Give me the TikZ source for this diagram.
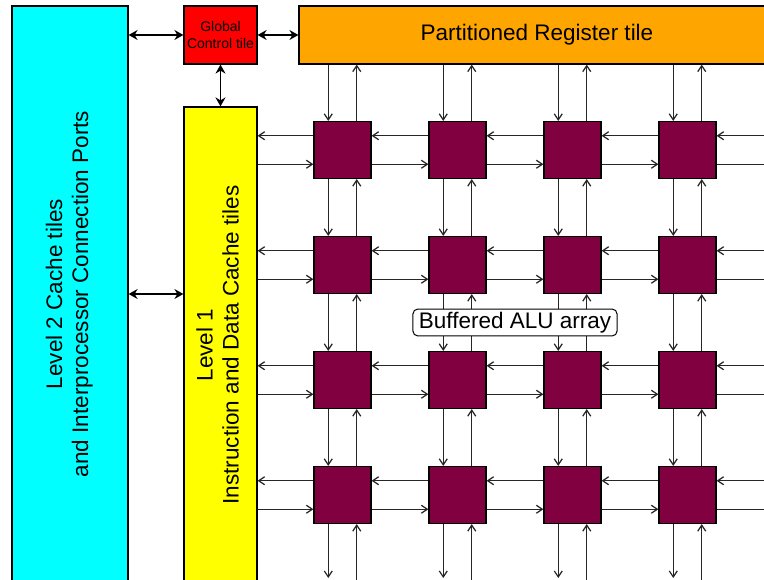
\documentclass[tikz,border=0pt]{standalone}
\usepackage{fontspec}
\setmainfont{Liberation Sans}
\usetikzlibrary{arrows.meta,positioning,calc}
\definecolor{regOrange}{RGB}{255,165,0}
\definecolor{aluPurple}{RGB}{128,0,64}
\definecolor{cacheCyan}{RGB}{0,255,255}
\definecolor{cacheYellow}{RGB}{255,255,0}
\definecolor{ctlRed}{RGB}{255,0,0}

\begin{document}
\begin{tikzpicture}[x=1pt, y=-1pt,
  tile/.style={draw, line width=1.2pt, inner sep=0pt},
  alu/.style={draw, line width=1.2pt, fill=aluPurple, minimum size=57pt, inner sep=0pt},
  bus/.style={line width=1.8pt, {Stealth[length=9pt,width=10pt,inset=3pt]}-{Stealth[length=9pt,width=10pt,inset=3pt]}},
  link/.style={line width=1.2pt, black!85, -{Straight Barb[length=6pt,width=8pt]}},
  big/.style={font=\fontsize{22.5}{26}\selectfont}]
\useasboundingbox (0,0) rectangle (764,580);
\clip (0,0) rectangle (764,580);
\coordinate (rim) at (780,590);
\coordinate (bot) at (0,578);

\node[tile, fill=cacheCyan, minimum width=116pt, minimum height=576pt, big] (l2) at (70,294)
  {\rotatebox{90}{\begin{tabular}{@{}c@{}}Level 2 Cache tiles\\and Interprocessor Connection Ports\end{tabular}}};
\node[tile, fill=ctlRed, minimum width=73pt, minimum height=58pt, align=center,
  font=\fontsize{14}{17}\selectfont] (gct) at (220.5,35) {Global\\Control tile};
\node[tile, fill=regOrange, minimum width=476pt, minimum height=58pt, big] (prt) at (537,35)
  {Partitioned Register tile};
\node[tile, fill=cacheYellow, minimum width=73pt, minimum height=476pt, big] (l1) at (220.5,345)
  {\rotatebox{90}{\begin{tabular}{@{}c@{}}Level 1\\Instruction and Data Cache tiles\end{tabular}}};

\draw[bus] (l2.east |- gct.west) -- (gct.west);
\draw[bus] (gct.east) -- (gct.east -| prt.west);
\draw[bus] (gct.south) -- (l1.north);
\draw[bus] (l2.east) -- (l2.east -| l1.west);

\foreach \row in {1,...,4}
  \foreach \col in {1,...,4}
    \node[alu] (a\row\col) at ({342.5+115*(\col-1)},{150+115*(\row-1)}) {};

\foreach \col in {1,...,4} {
  \draw[link] ([xshift=-14.25pt]a1\col.north |- prt.south) -- ([xshift=-14.25pt]a1\col.north);
  \draw[link] ([xshift=14.25pt]a1\col.north) -- ([xshift=14.25pt]a1\col.north |- prt.south);
  \draw[link] ([xshift=-14.25pt]a4\col.south) -- ([xshift=-14.25pt]a4\col.south |- bot);
  \draw[link] ([xshift=14.25pt]a4\col.south |- rim) -- ([xshift=14.25pt]a4\col.south);
}
\foreach \row/\nxt in {1/2,2/3,3/4}
  \foreach \col in {1,...,4} {
    \draw[link] ([xshift=-14.25pt]a\row\col.south) -- ([xshift=-14.25pt]a\nxt\col.north);
    \draw[link] ([xshift=14.25pt]a\nxt\col.north) -- ([xshift=14.25pt]a\row\col.south);
  }
\foreach \col/\nxt in {1/2,2/3,3/4}
  \foreach \row in {1,...,4} {
    \draw[link] ([yshift=14.25pt]a\row\nxt.west) -- ([yshift=14.25pt]a\row\col.east);
    \draw[link] ([yshift=-14.25pt]a\row\col.east) -- ([yshift=-14.25pt]a\row\nxt.west);
  }
\foreach \row in {1,...,4} {
  \draw[link] ([yshift=14.25pt]a\row1.west) -- ([yshift=14.25pt]a\row1.west -| l1.east);
  \draw[link] ([yshift=-14.25pt]a\row1.west -| l1.east) -- ([yshift=-14.25pt]a\row1.west);
  \draw[link] ([yshift=14.25pt]a\row4.east -| rim) -- ([yshift=14.25pt]a\row4.east);
  \draw[link] ([yshift=-14.25pt]a\row4.east) -- ([yshift=-14.25pt]a\row4.east -| rim);
}

\node[draw, fill=white, rounded corners=5pt, line width=1pt, inner xsep=6pt, inner ysep=3pt, big]
  (buf) at (515,322.5) {Buffered ALU array};
\end{tikzpicture}
\end{document}
